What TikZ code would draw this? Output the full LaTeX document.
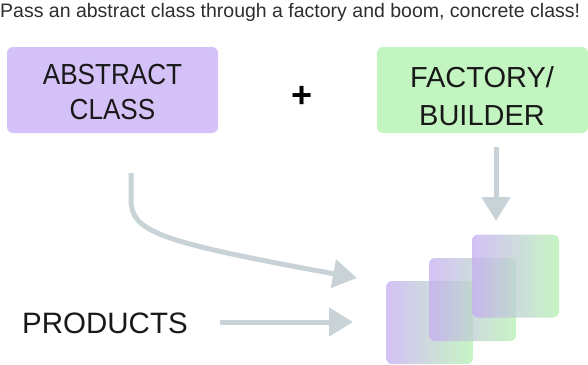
\documentclass[tikz,border=0pt]{standalone}
\usepackage{fontspec}
\setmainfont{Liberation Sans}
\newfontfamily\labelfont[FakeStretch=0.9]{Liberation Sans}
\newfontfamily\widelabelfont{Liberation Sans}
\usetikzlibrary{arrows.meta}

\definecolor{lavender}{HTML}{D4C1F7}
\definecolor{mint}{HTML}{C3F5C1}
\definecolor{arrowgray}{HTML}{C9D3D7}
\definecolor{inkgray}{HTML}{2E2E2E}
% deeper tints for the translucent product cards
\definecolor{prodpurple}{HTML}{C6ACF3}
\definecolor{prodgray}{HTML}{B3BEC9}
\definecolor{prodgreen}{HTML}{B4F1B0}

\tikzset{
  card/.style={rectangle, rounded corners=6pt, minimum width=211pt,
    minimum height=86pt, inner sep=0pt},
  cardtext/.style={inner sep=0pt, align=center, text=black!90,
    font=\labelfont\fontsize{29}{35}\selectfont},
  flow/.style={draw=arrowgray, line width=5pt,
    -{Triangle[length=24pt,width=28pt]}},
  product/.style={rectangle, rounded corners=6pt, minimum width=87pt,
    minimum height=83pt, inner sep=0pt, left color=prodpurple,
    middle color=prodgray, right color=prodgreen, opacity=0.75},
}

\begin{document}
\begin{tikzpicture}[x=1pt,y=-1pt]
\useasboundingbox (0,0) rectangle (588,364);

% heading
\node[anchor=base west, inner sep=0pt, text=inkgray,
      font=\fontsize{19.5}{22}\selectfont] (title) at (0,17)
  {Pass an abstract class through a factory and boom, concrete class!};

% input cards
\node[card, fill=lavender] (abstract) at (112.5,90) {};
\node[cardtext] (abstractlbl) at (112.5,92.5) {ABSTRACT\\CLASS};

\node[card, fill=mint] (factory) at (482.5,90) {};
\node[cardtext, font=\widelabelfont\fontsize{29}{38}\selectfont]
  (factorylbl) at (482,96) {FACTORY/\\BUILDER};

\node[inner sep=0pt, font=\bfseries\fontsize{36}{36}\selectfont]
  (plus) at (302,97) {+};

\node[anchor=base west, inner sep=0pt, text=black!90,
      font=\widelabelfont\fontsize{29.5}{34}\selectfont]
  (products) at (22,333) {PRODUCTS};

% stack of produced objects
\node[product] (prodA) at (429.5,322.5) {};
\node[product] (prodB) at (472.5,299.5) {};
\node[product] (prodC) at (515.5,276) {};

% connectors
\coordinate (absfoot) at (131,173);
\coordinate (abstip) at (357,278);
\coordinate (facfoot) at (496,147);
\coordinate (factip) at (496,221);
\coordinate (prodfoot) at (220,322);
\coordinate (prodtip) at (353,322);

\draw[flow] (absfoot) -- (131,200)
  .. controls (131,232) and (160,242) .. (abstip);
\draw[flow] (facfoot) -- (factip);
\draw[flow] (prodfoot) -- (prodtip);
\end{tikzpicture}
\end{document}
